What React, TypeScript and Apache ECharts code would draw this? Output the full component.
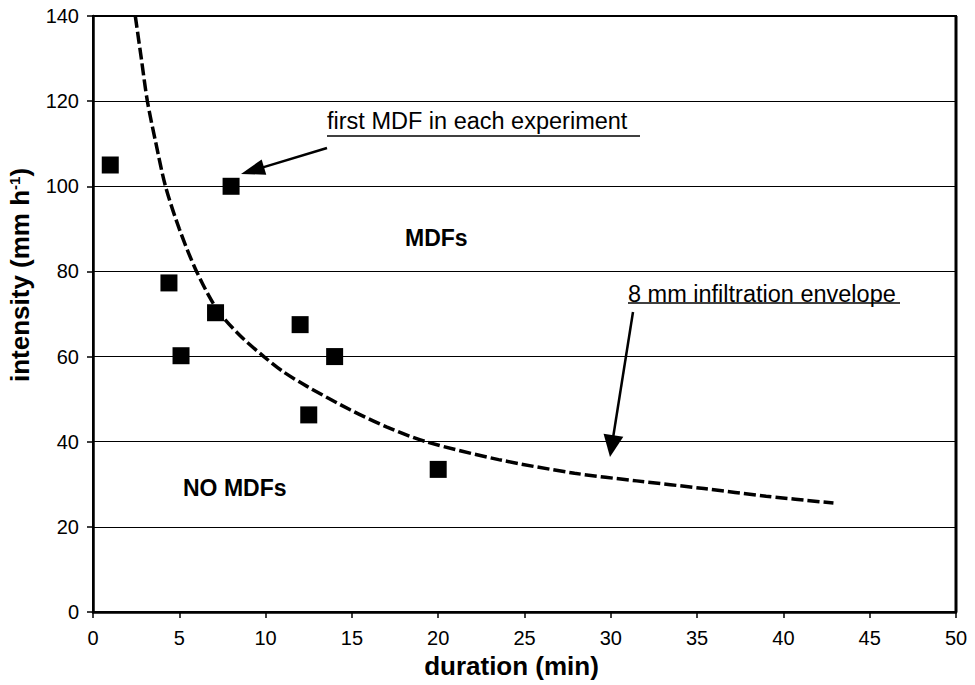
import React, { useEffect, useRef } from "react";
import * as echarts from "echarts";

// Observed events: duration (min) and rainfall intensity (mm h-1)
const durations = [1, 8, 4.4, 7.1, 5.1, 12, 14, 12.5, 20];
const intensities = [105, 100, 77.3, 70.3, 60.2, 67.5, 60, 46.3, 33.5];

// 8 mm infiltration envelope
const envelopeDuration = [2.45, 2.8, 3.15, 3.65, 4.2, 5.0, 6.0, 7.2, 8.5, 9.9, 11.0, 12.4, 14.9, 17.0, 19.3, 23.5, 27.9, 31.5, 35.4, 39.0, 42.9];
const envelopeIntensity = [140, 130, 120, 110, 100, 90, 80, 71, 65, 60, 56.5, 53, 47.5, 43.5, 40, 35.8, 32.6, 30.8, 29, 27.2, 25.6];

const FONT = "'Liberation Sans', Arial, Helvetica, sans-serif";

function arrow(x1: number, y1: number, x2: number, y2: number, headLen: number, headW: number) {
  const dx = x2 - x1;
  const dy = y2 - y1;
  const L = Math.sqrt(dx * dx + dy * dy);
  const ux = dx / L;
  const uy = dy / L;
  const bx = x2 - ux * headLen;
  const by = y2 - uy * headLen;
  const px = -uy;
  const py = ux;
  return [
    {
      type: "line",
      shape: { x1, y1, x2: bx + ux * 2, y2: by + uy * 2 },
      style: { stroke: "#000", lineWidth: 2.5 },
      z: 100,
    },
    {
      type: "polygon",
      shape: {
        points: [
          [x2, y2],
          [bx + (px * headW) / 2, by + (py * headW) / 2],
          [bx - (px * headW) / 2, by - (py * headW) / 2],
        ],
      },
      style: { fill: "#000" },
      z: 100,
    },
  ];
}

export default function App() {
  const ref = useRef<HTMLDivElement>(null);

  useEffect(() => {
    if (!ref.current) return;
    const chart = echarts.init(ref.current, null, { renderer: "svg" });

    const pts = durations.map((d, i) => [d, intensities[i]]);
    const env = envelopeDuration.map((d, i) => [d, envelopeIntensity[i]]);

    chart.setOption({
      animation: false,
      backgroundColor: "#fff",
      grid: {
        left: 93,
        right: 19,
        top: 16,
        bottom: 73,
        outerBoundsMode: "none",
        containLabel: false,
        show: true,
        borderColor: "#000",
        borderWidth: 2,
        backgroundColor: "transparent",
      },
      xAxis: {
        type: "value",
        min: 0,
        max: 50,
        interval: 5,
        name: "duration (min)",
        nameLocation: "middle",
        nameGap: 32,
        nameTextStyle: {
          fontFamily: FONT,
          fontWeight: "bold",
          fontSize: 26,
          color: "#000",
          padding: [0, 26, 0, 0],
        },
        axisLine: { show: true, lineStyle: { color: "#000", width: 2.5 } },
        axisTick: { show: true, length: 6, lineStyle: { color: "#000", width: 1.5 } },
        axisLabel: { fontFamily: FONT, fontSize: 20, color: "#000", margin: 16 },
        splitLine: { show: false },
      },
      yAxis: {
        type: "value",
        min: 0,
        max: 140,
        interval: 20,
        name: "{t|intensity (mm h}{s|-1}{t|)}",
        nameLocation: "middle",
        nameRotate: 90,
        nameGap: 60,
        nameTextStyle: {
          padding: [0, 0, 0, 78],
          rich: {
            t: { fontFamily: FONT, fontWeight: "bold", fontSize: 26, color: "#000" },
            s: { fontFamily: FONT, fontWeight: "bold", fontSize: 15, color: "#000", verticalAlign: "top" },
          },
        },
        axisLine: { show: true, lineStyle: { color: "#000", width: 2.5 } },
        axisTick: { show: true, length: 6, lineStyle: { color: "#000", width: 1.5 } },
        axisLabel: { fontFamily: FONT, fontSize: 20, color: "#000", margin: 14 },
        splitLine: { show: true, lineStyle: { color: "#000", width: 1 } },
      },
      series: [
        {
          name: "8 mm infiltration envelope",
          type: "line",
          data: env,
          smooth: 0.3,
          showSymbol: false,
          symbol: "none",
          lineStyle: { color: "#000", width: 3.5, type: [12, 4] },
          z: 3,
        },
        {
          name: "first MDF in each experiment",
          type: "scatter",
          data: pts,
          symbol: "rect",
          symbolSize: 17,
          itemStyle: { color: "#000", opacity: 1 },
          z: 4,
        },
      ],
      graphic: [
        {
          type: "line",
          shape: { x1: 956, y1: 16, x2: 956, y2: 612 },
          style: { stroke: "#000", lineWidth: 3 },
          z: 50,
        },
        {
          type: "text",
          x: 327,
          y: 121,
          style: {
            text: "first MDF in each experiment",
            font: `23.5px ${FONT}`,
            fill: "#000",
            align: "left",
            verticalAlign: "middle",
          },
          z: 100,
        },
        {
          type: "line",
          shape: { x1: 327, y1: 136, x2: 640, y2: 136 },
          style: { stroke: "#000", lineWidth: 1.5 },
          z: 100,
        },
        ...arrow(327, 148, 241, 174, 24, 16),
        {
          type: "text",
          x: 628,
          y: 294,
          style: {
            text: "8 mm infiltration envelope",
            font: `23.5px ${FONT}`,
            fill: "#000",
            align: "left",
            verticalAlign: "middle",
          },
          z: 100,
        },
        {
          type: "line",
          shape: { x1: 628, y1: 303, x2: 900, y2: 303 },
          style: { stroke: "#000", lineWidth: 1.5 },
          z: 100,
        },
        ...arrow(633, 312, 610, 457, 22, 20),
        {
          type: "text",
          x: 405,
          y: 238,
          style: {
            text: "MDFs",
            font: `bold 23px ${FONT}`,
            fill: "#000",
            align: "left",
            verticalAlign: "middle",
          },
          z: 100,
        },
        {
          type: "text",
          x: 183,
          y: 488,
          style: {
            text: "NO MDFs",
            font: `bold 23px ${FONT}`,
            fill: "#000",
            align: "left",
            verticalAlign: "middle",
          },
          z: 100,
        },
      ],
    });

    return () => {
      chart.dispose();
    };
  }, []);

  return (
    <div
      ref={ref}
      style={{ position: "fixed", left: 0, top: 0, width: 975, height: 685, background: "#fff" }}
    />
  );
}
